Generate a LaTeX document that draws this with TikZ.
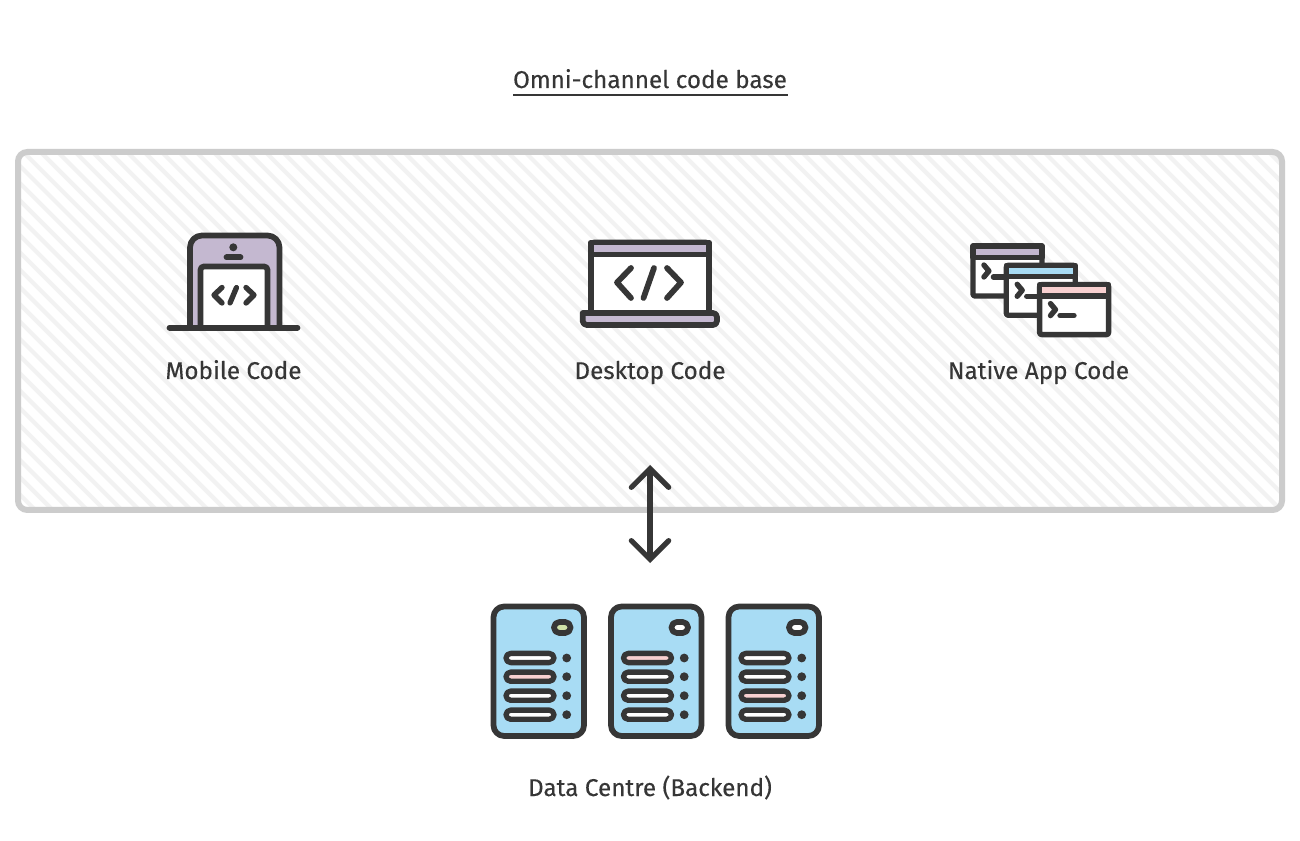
\documentclass[tikz,border=0pt]{standalone}
\usepackage{fontspec}
\setmainfont[FakeBold=0.25]{Fira Sans}
\usepackage{tikz}
\usetikzlibrary{arrows.meta,positioning}
\definecolor{inkgrey}{HTML}{363636}
\definecolor{framegrey}{HTML}{CCCCCC}
\definecolor{hatchgrey}{HTML}{F2F2F2}
\definecolor{lilac}{HTML}{C4B8D0}
\definecolor{skyblue}{HTML}{A8DCF4}
\definecolor{blush}{HTML}{F8D0D0}
\definecolor{lime}{HTML}{CFE2A8}
\tikzset{
  ink/.style={draw=inkgrey,line width=4.3pt,line join=round,line cap=round},
  thin ink/.style={ink,line width=4pt},
  caption/.style={text=inkgrey,font=\fontsize{18.2pt}{21pt}\selectfont,inner sep=0pt,anchor=base},
}
\begin{document}
\begin{tikzpicture}[x=0.75pt,y=-0.75pt]
  \useasboundingbox (0,0) rectangle (1300,841);
  \fill[white] (0,0) rectangle (1300,841);

  % frame with hatching
  \begin{scope}
    \clip[rounded corners=7pt] (18,152) rectangle (1282,510);
    \foreach \hx in {-340,-322.7,...,1290}
      \draw[hatchgrey,line width=3.1pt] (\hx,152) -- ++(358,358);
  \end{scope}
  \draw[framegrey,line width=4.5pt,rounded corners=7pt] (18,152) rectangle (1282,510);

  % title
  \node [caption] (title) at (650,88) {Omni-channel code base};
  \coordinate (ruleleft) at (513,95);
  \coordinate (ruleright) at (788,95);
  \draw[inkgrey,line width=1.9pt] (ruleleft) -- (ruleright);

  % mobile
  \filldraw[ink,fill=lilac,rounded corners=9pt] (190,327) -- (190,235.5) -- (279.5,235.5) -- (279.5,327);
  \filldraw[ink,fill=white,rounded corners=2.5pt] (200.5,327) -- (200.5,266.5) -- (267.5,266.5) -- (267.5,327);
  \draw[ink] (169.5,327.7) -- (297.5,327.7);
  \fill[inkgrey] (233.3,247.3) circle (3pt);
  \draw[ink] (226.5,257.3) -- (240.5,257.3);
  \draw[thin ink] (222,287.5) -- (214,295) -- (222,303);
  \draw[thin ink] (236.5,287.5) -- (230,303);
  \draw[thin ink] (246,287.5) -- (254,295) -- (246,303);
  \node [caption] (mobile) at (233.5,379) {Mobile Code};

  % desktop
  \filldraw[ink,fill=white,rounded corners=2.5pt] (591,313) -- (591,242.5) -- (709,242.5) -- (709,313);
  \filldraw[ink,fill=lilac] (591,242.5) -- (709,242.5) -- (709,254.5) -- (591,254.5) -- cycle;
  \filldraw[ink,fill=lilac] (582.7,313) [rounded corners=3pt] -- (582.7,325) -- (717,325) -- (717,313) [sharp corners] -- cycle;
  \draw[ink] (631,268) -- (617,282.5) -- (631,298);
  \draw[ink] (654,268) -- (643.5,298);
  \draw[ink] (667,268) -- (681,282.5) -- (667,298);
  \node [caption] (desktop) at (650,379) {Desktop Code};

  % native app windows
  \foreach \wx/\wy/\wcol in {973/246/lilac,1006.3/265.3/skyblue,1039.6/284.6/blush} {
    \begin{scope}[shift={(\wx,\wy)}]
      \filldraw[thin ink,fill=white,rounded corners=1.5pt] (0,0) rectangle (69,50);
      \filldraw[thin ink,fill=\wcol] (0,0) rectangle (69,11.3);
      \draw[thin ink] (10.9,19) -- (15.9,25) -- (10.9,31);
      \draw[thin ink] (20.4,31) -- (34.4,31);
    \end{scope}
  }
  \node [caption] (native) at (1038.5,379) {Native App Code};

  % link between code base and servers
  \coordinate (linktop) at (650,465);
  \coordinate (linkbottom) at (650,563);
  \draw[inkgrey,line width=3.9pt,{Straight Barb[length=14pt,width=28pt,line cap=round]}-{Straight Barb[length=14pt,width=28pt,line cap=round]}] (linktop) -- (linkbottom);

  % servers
  \foreach \sx/\lampcol/\rowa/\rowb/\rowc in {0/lime/white/blush/white,117.5/white/blush/white/white,235/white/white/white/blush} {
    \begin{scope}[xshift=\sx*0.75pt]
      \filldraw[ink,fill=skyblue,rounded corners=8pt] (493.5,606.5) rectangle (584,736);
      \filldraw[ink,fill=\lampcol,rounded corners=4pt] (554,622) rectangle (570.5,633);
      \foreach \ry/\rcol in {658/\rowa,676.7/\rowb,695.7/\rowc,714.7/white} {
        \filldraw[thin ink,fill=\rcol,rounded corners=3.5pt] (506,\ry-4.6) rectangle (554,\ry+4.6);
        \fill[inkgrey] (566.7,\ry) circle (3.3pt);
      }
    \end{scope}
  }
  \node [caption] (backend) at (650,796) {Data Centre (Backend)};
\end{tikzpicture}
\end{document}
